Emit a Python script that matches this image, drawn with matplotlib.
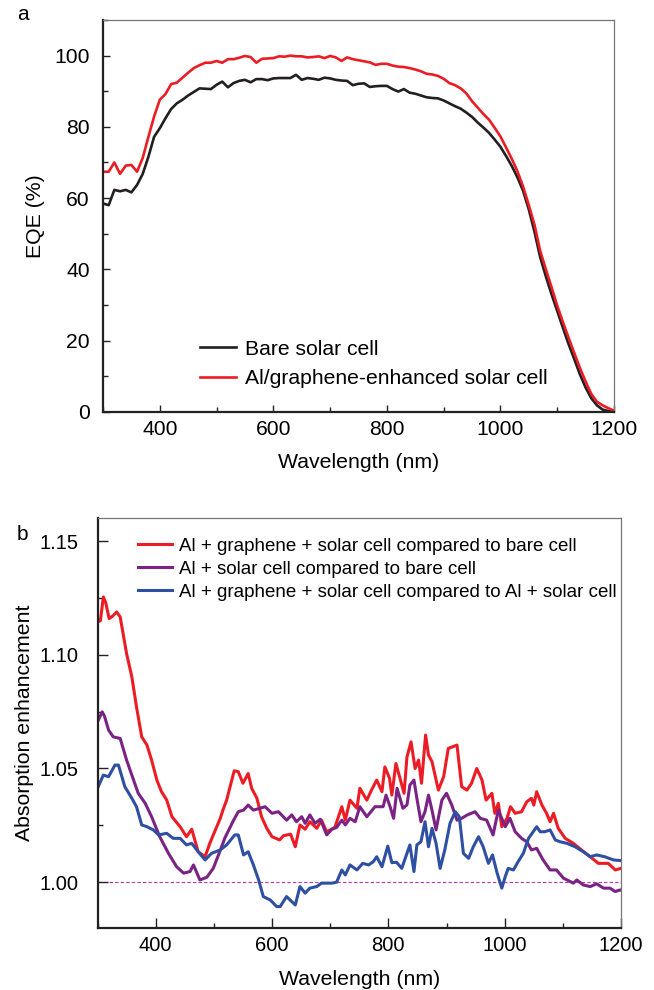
import numpy as np
import matplotlib
matplotlib.use('Agg')
from matplotlib import pyplot as plt
from matplotlib.ticker import MultipleLocator, FormatStrFormatter

plt.rcParams['font.family'] = ['Liberation Sans', 'DejaVu Sans']

# ---- panel a: EQE spectra (10 nm steps) ----
wl_a = np.arange(300, 1201, 10)
eqe_bare = [
    58.5, 58.0, 62.3, 61.9, 62.3, 61.6, 63.7, 66.8, 71.6, 77.2,
    79.6, 82.4, 85.0, 86.6, 87.6, 88.8, 89.8, 90.8, 90.7, 90.6,
    91.8, 92.7, 91.1, 92.3, 92.9, 93.2, 92.5, 93.4, 93.4, 93.1,
    93.6, 93.7, 93.7, 93.7, 94.6, 93.2, 93.7, 93.5, 93.2, 93.8,
    93.6, 93.2, 93.0, 92.9, 91.7, 92.1, 92.2, 91.2, 91.4, 91.5,
    91.5, 90.6, 89.9, 90.6, 89.6, 89.3, 88.8, 88.3, 88.1, 88.0,
    87.4, 86.6, 85.8, 85.1, 84.0, 82.8, 81.2, 79.8, 78.3, 76.4,
    74.4, 71.8, 69.0, 65.8, 62.0, 56.8, 50.5, 43.4, 38.0, 33.0,
    28.3, 23.6, 19.0, 14.8, 10.5, 6.8, 3.8, 1.8, 0.6, 0.2, 0.0]
eqe_enh = [
    67.4, 67.4, 70.0, 66.8, 69.1, 69.3, 67.4, 71.3, 77.2, 82.9,
    87.6, 89.2, 92.0, 92.4, 93.8, 95.2, 96.5, 97.3, 98.0, 98.0,
    98.5, 98.0, 99.0, 99.0, 99.4, 99.9, 99.6, 98.0, 99.1, 99.2,
    99.3, 99.8, 99.7, 100.0, 99.8, 99.8, 99.5, 99.6, 99.8, 99.3,
    99.9, 99.5, 98.5, 99.5, 99.0, 98.7, 98.4, 98.1, 97.4, 97.7,
    97.7, 97.2, 96.9, 96.8, 96.5, 96.1, 95.6, 94.9, 94.7, 94.3,
    93.5, 92.3, 91.7, 90.8, 89.4, 87.2, 85.4, 83.6, 82.0, 79.7,
    77.3, 74.2, 71.0, 67.5, 63.2, 58.0, 52.5, 45.2, 40.0, 35.0,
    29.8, 25.2, 20.8, 16.5, 12.3, 8.5, 5.0, 2.8, 1.8, 1.0, 0.3]
labels_a = ['Bare solar cell', 'Al/graphene-enhanced solar cell']

# ---- panel b: absorption enhancement ----
wl_red = [300, 305, 310, 314, 320, 326, 333, 339, 350, 359, 367, 376, 385, 393,
          402, 410, 419, 428, 442, 453, 462, 473, 485, 493, 505, 511, 516, 522,
          535, 542, 550, 559, 565, 574, 582, 591, 600, 613, 620, 632, 640, 648,
          657, 665, 677, 685, 694, 708, 720, 726, 734, 746, 751, 763, 771, 780,
          789, 794, 802, 806, 813, 820, 827, 832, 839, 846, 852, 857, 864, 869,
          875, 886, 895, 903, 918, 926, 935, 943, 952, 961, 968, 978, 983, 989,
          995, 1004, 1010, 1018, 1029, 1038, 1046, 1050, 1055, 1064, 1072, 1078,
          1084, 1092, 1104, 1118, 1132, 1147, 1161, 1178, 1190, 1200]
ae_red = [1.1144, 1.1150, 1.1254, 1.1230, 1.1159, 1.1170, 1.1188, 1.1166, 1.1005,
          1.0903, 1.0771, 1.0639, 1.0603, 1.0537, 1.0449, 1.0398, 1.0361, 1.0288,
          1.0244, 1.0200, 1.0233, 1.0134, 1.0112, 1.0171, 1.0244, 1.0281, 1.0320,
          1.0361, 1.0490, 1.0486, 1.0435, 1.0478, 1.0413, 1.0369, 1.0288, 1.0237,
          1.0200, 1.0186, 1.0205, 1.0211, 1.0156, 1.0252, 1.0233, 1.0266, 1.0237,
          1.0273, 1.0222, 1.0241, 1.0332, 1.0273, 1.0361, 1.0325, 1.0413, 1.0361,
          1.0405, 1.0449, 1.0398, 1.0507, 1.0457, 1.0383, 1.0522, 1.0457, 1.0391,
          1.0551, 1.0617, 1.0500, 1.0537, 1.0435, 1.0647, 1.0559, 1.0530, 1.0405,
          1.0464, 1.0588, 1.0603, 1.0420, 1.0405, 1.0435, 1.0500, 1.0449, 1.0361,
          1.0391, 1.0303, 1.0347, 1.0244, 1.0281, 1.0332, 1.0303, 1.0310, 1.0354,
          1.0369, 1.0339, 1.0398, 1.0339, 1.0303, 1.0266, 1.0303, 1.0237, 1.0193,
          1.0171, 1.0142, 1.0112, 1.0083, 1.0083, 1.0054, 1.0061]

wl_pur = [300, 308, 312, 319, 327, 339, 350, 362, 370, 382, 393, 407, 422, 436,
          448, 459, 465, 476, 488, 499, 511, 519, 534, 542, 551, 559, 568, 579,
          588, 600, 611, 625, 634, 642, 651, 657, 665, 674, 683, 694, 703, 711,
          720, 726, 734, 743, 751, 763, 777, 791, 796, 803, 809, 815, 825, 832,
          837, 844, 849, 856, 863, 869, 875, 882, 892, 900, 909, 918, 926, 935,
          949, 958, 969, 980, 989, 1001, 1009, 1018, 1029, 1038, 1046, 1055,
          1066, 1078, 1089, 1101, 1118, 1124, 1135, 1147, 1158, 1170, 1181, 1190,
          1198, 1200]
ae_pur = [1.0705, 1.0749, 1.0730, 1.0669, 1.0639, 1.0632, 1.0537, 1.0449, 1.0391,
          1.0347, 1.0288, 1.0200, 1.0127, 1.0068, 1.0040, 1.0047, 1.0076, 1.0010,
          1.0022, 1.0061, 1.0140, 1.0195, 1.0273, 1.0310, 1.0317, 1.0339, 1.0317,
          1.0325, 1.0332, 1.0303, 1.0310, 1.0273, 1.0296, 1.0266, 1.0288, 1.0259,
          1.0296, 1.0259, 1.0277, 1.0208, 1.0233, 1.0241, 1.0273, 1.0252, 1.0281,
          1.0266, 1.0332, 1.0288, 1.0332, 1.0332, 1.0383, 1.0332, 1.0281, 1.0413,
          1.0325, 1.0340, 1.0427, 1.0449, 1.0369, 1.0266, 1.0310, 1.0383, 1.0317,
          1.0230, 1.0361, 1.0391, 1.0339, 1.0273, 1.0281, 1.0295, 1.0310, 1.0281,
          1.0273, 1.0208, 1.0317, 1.0244, 1.0281, 1.0222, 1.0193, 1.0178, 1.0142,
          1.0149, 1.0098, 1.0054, 1.0054, 1.0018, 0.9996, 1.0010, 0.9988, 0.9981,
          0.9993, 0.9974, 0.9974, 0.9959, 0.9966, 0.9965]

wl_blu = [300, 310, 319, 330, 336, 347, 359, 367, 376, 385, 396, 405, 419, 430,
          442, 453, 462, 473, 485, 496, 511, 522, 536, 542, 551, 559, 568, 577,
          585, 597, 608, 614, 625, 640, 648, 657, 665, 677, 685, 703, 711, 720,
          726, 734, 746, 756, 766, 774, 780, 789, 799, 806, 814, 823, 837, 844,
          849, 856, 863, 869, 875, 882, 889, 897, 906, 915, 922, 929, 938, 946,
          955, 963, 972, 979, 987, 995, 1001, 1006, 1015, 1023, 1032, 1041, 1049,
          1055, 1061, 1069, 1078, 1087, 1095, 1107, 1121, 1135, 1147, 1158, 1172,
          1187, 1200]
ae_blu = [1.0413, 1.0471, 1.0464, 1.0515, 1.0515, 1.0420, 1.0369, 1.0332, 1.0252,
          1.0244, 1.0230, 1.0208, 1.0215, 1.0193, 1.0193, 1.0164, 1.0171, 1.0134,
          1.0098, 1.0127, 1.0142, 1.0164, 1.0208, 1.0208, 1.0120, 1.0134, 1.0076,
          1.0010, 0.9937, 0.9922, 0.9893, 0.9893, 0.9937, 0.9900, 0.9981, 0.9952,
          0.9974, 0.9981, 0.9996, 0.9996, 1.0000, 1.0054, 1.0032, 1.0076, 1.0054,
          1.0083, 1.0076, 1.0090, 1.0112, 1.0068, 1.0159, 1.0086, 1.0088, 1.0061,
          1.0164, 1.0047, 1.0164, 1.0178, 1.0266, 1.0156, 1.0237, 1.0171, 1.0061,
          1.0142, 1.0259, 1.0310, 1.0288, 1.0127, 1.0105, 1.0156, 1.0200, 1.0156,
          1.0083, 1.0120, 1.0040, 0.9974, 1.0025, 1.0061, 1.0054, 1.0090, 1.0127,
          1.0193, 1.0222, 1.0244, 1.0222, 1.0222, 1.0230, 1.0186, 1.0178, 1.0171,
          1.0156, 1.0134, 1.0112, 1.0120, 1.0112, 1.0098, 1.0095]
labels_b = ['Al + graphene + solar cell compared to bare cell',
            'Al + solar cell compared to bare cell',
            'Al + graphene + solar cell compared to Al + solar cell']

RED = '#ec1c24'
BLACK = '#231f20'
PURPLE = '#7b2384'
BLUE = '#2f4fa2'


def style_axis(ax, fs, ypad, xpad, major_len, minor_len):
    ax.tick_params(which='both', direction='in', top=False, right=False,
                   width=1.0, color='#222222', labelsize=fs)
    ax.tick_params(which='major', length=major_len)
    ax.tick_params(which='minor', length=minor_len)
    ax.tick_params(axis='y', pad=ypad)
    ax.tick_params(axis='x', pad=xpad)
    for side in ('left', 'bottom'):
        ax.spines[side].set_linewidth(1.6)
        ax.spines[side].set_color('#222222')
    for side in ('top', 'right'):
        ax.spines[side].set_linewidth(0.9)
        ax.spines[side].set_color('#777777')


fig = plt.figure(figsize=(6.54, 9.9), dpi=100)

# panel a
ax1 = fig.add_axes([0.1575, 0.5841, 0.7813, 0.3957])
ax1.plot(wl_a, eqe_bare, color=BLACK, lw=1.9, label=labels_a[0])
ax1.plot(wl_a, eqe_enh, color=RED, lw=1.9, label=labels_a[1])
ax1.set_xlim(300, 1200)
ax1.set_ylim(0, 110)
ax1.xaxis.set_major_locator(MultipleLocator(200))
ax1.xaxis.set_minor_locator(MultipleLocator(100))
ax1.yaxis.set_major_locator(MultipleLocator(20))
ax1.yaxis.set_minor_locator(MultipleLocator(10))
style_axis(ax1, 15.2, 9.5, 6, 5, 3.5)
ax1.set_xlabel('Wavelength (nm)', fontsize=15.3, labelpad=10)
ax1.set_ylabel('EQE (%)', fontsize=15.3, labelpad=7)
ax1.legend(loc='upper left', bbox_to_anchor=(0.19, 0.184), frameon=False,
           fontsize=15.2, handlelength=1.7, handletextpad=0.42,
           labelspacing=0.5, borderpad=0, borderaxespad=0)
fig.text(0.035, 0.985, 'a', fontsize=15, va='center', ha='center')

# panel b
ax2 = fig.add_axes([0.1491, 0.0629, 0.8005, 0.4136])
ax2.axhline(1.0, color='#c030c0', lw=0.8, ls=(0, (3, 2)), zorder=1)
ax2.plot(wl_red, ae_red, color=RED, lw=2.2, label=labels_b[0])
ax2.plot(wl_pur, ae_pur, color=PURPLE, lw=2.2, label=labels_b[1])
ax2.plot(wl_blu, ae_blu, color=BLUE, lw=2.2, label=labels_b[2])
ax2.set_xlim(300, 1200)
ax2.set_ylim(0.98, 1.16)
ax2.xaxis.set_major_locator(MultipleLocator(200))
ax2.xaxis.set_minor_locator(MultipleLocator(100))
ax2.yaxis.set_major_locator(MultipleLocator(0.05))
ax2.yaxis.set_minor_locator(MultipleLocator(0.025))
ax2.yaxis.set_major_formatter(FormatStrFormatter('%.2f'))
style_axis(ax2, 14.5, 13.5, 6, 7, 3.5)
ax2.set_xlabel('Wavelength (nm)', fontsize=15.3, labelpad=11)
ax2.set_ylabel('Absorption enhancement', fontsize=15.3, labelpad=4)
ax2.legend(loc='upper left', bbox_to_anchor=(0.077, 0.952), frameon=False,
           fontsize=13.5, handlelength=1.8, handletextpad=0.4,
           labelspacing=0.3, borderpad=0, borderaxespad=0)
fig.text(0.035, 0.4596, 'b', fontsize=15, va='center', ha='center')

fig.savefig('out.png', dpi=100)
